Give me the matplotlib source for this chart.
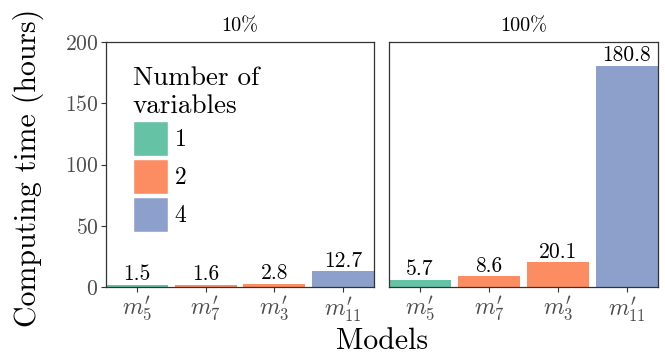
import matplotlib
matplotlib.use("Agg")
import matplotlib.pyplot as plt
from matplotlib.patches import Patch

plt.rcParams["font.family"] = "cmr10"
plt.rcParams["mathtext.fontset"] = "cm"
plt.rcParams["axes.formatter.use_mathtext"] = True

models = ["$m_5^{\\prime}$", "$m_7^{\\prime}$", "$m_3^{\\prime}$", "$m_{11}^{\\prime}$"]
n_vars = [1, 2, 2, 4]
facets = ["10%", "100%"]
hours_10 = [1.5, 1.6, 2.8, 12.7]
hours_100 = [5.7, 8.6, 20.1, 180.8]
var_colors = {1: "#66c2a5", 2: "#fc8d62", 4: "#8da0cb"}

W, H = 665, 356
fig = plt.figure(figsize=(W / 100, H / 100), dpi=100)
ax1 = fig.add_axes([106 / W, 1 - 287 / H, 268 / W, 245 / H])
ax2 = fig.add_axes([389 / W, 1 - 287 / H, 269 / W, 245 / H])

x = list(range(1, len(models) + 1))
grey = "#4d4d4d"
for ax, title, vals in [(ax1, facets[0], hours_10), (ax2, facets[1], hours_100)]:
    cols = [var_colors[v] for v in n_vars]
    ax.bar(x, vals, width=0.9, color=cols, zorder=2)
    for xi, v in zip(x, vals):
        ax.annotate(f"{v:.1f}", (xi, v), xytext=(0, 0.5), textcoords="offset points",
                    ha="center", va="bottom", fontsize=15.5, color="black")
    ax.set_xlim(0.55, 4.45)
    ax.set_ylim(0, 200)
    ax.set_xticks(x)
    ax.set_xticklabels(models, fontsize=17, color=grey)
    ax.tick_params(axis="x", length=3.5, width=0.8, color="#333333", pad=2)
    ax.set_title(title, fontsize=14.5, pad=8)
    for s in ax.spines.values():
        s.set_color("#333333")
        s.set_linewidth(0.9)

ax1.set_yticks([0, 50, 100, 150, 200])
ax1.tick_params(axis="y", labelsize=15.5, labelcolor=grey, length=3.5, width=0.8,
                color="#333333", pad=2)
ax2.set_yticks([])

fig.text(28 / W, 1 - 168 / H, "Computing time (hours)", rotation=90,
         ha="center", va="center", fontsize=21.5)
fig.text(382 / W, 1 - 341 / H, "Models", ha="center", va="center", fontsize=21.5)

handles = [Patch(facecolor=var_colors[k], edgecolor="white", linewidth=1.0) for k in var_colors]
leg = ax1.legend(handles, [str(k) for k in var_colors], title="Number of\nvariables",
                 loc="upper left", bbox_to_anchor=(0.1, 0.9), frameon=False,
                 fontsize=17, title_fontsize=19.5, handlelength=1.48, handleheight=1.9,
                 handletextpad=0.3, labelspacing=0.13, borderpad=0, borderaxespad=0,
                 alignment="left")

fig.savefig("out.png", dpi=100)
